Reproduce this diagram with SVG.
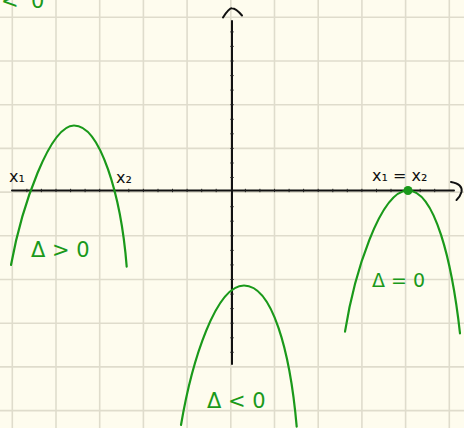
<svg xmlns="http://www.w3.org/2000/svg" width="464" height="428" viewBox="0 0 464 428">
<defs>
<style>
.grid line{stroke:#DFDCCC;stroke-width:1.6}
.axis{stroke:#111;stroke-width:2;fill:none;stroke-linecap:round;stroke-linejoin:round}
.tick{stroke:#222;stroke-width:1}
.curve{stroke:#1A991A;stroke-width:2.2;fill:none;stroke-linecap:round}
.lbl{fill:#1A991A;font-family:"DejaVu Sans",sans-serif}
.xl{fill:#111;font-family:"DejaVu Sans",sans-serif;font-size:16px}
</style>
</defs>
<rect width="464" height="428" fill="#FEFCEE"/>
<g class="grid" id="grid">
<line x1="12.3" y1="0" x2="12.3" y2="428"/>
<line x1="56" y1="0" x2="56" y2="428"/>
<line x1="99.7" y1="0" x2="99.7" y2="428"/>
<line x1="143.4" y1="0" x2="143.4" y2="428"/>
<line x1="187.1" y1="0" x2="187.1" y2="428"/>
<line x1="230.8" y1="0" x2="230.8" y2="428"/>
<line x1="274.5" y1="0" x2="274.5" y2="428"/>
<line x1="318.2" y1="0" x2="318.2" y2="428"/>
<line x1="361.9" y1="0" x2="361.9" y2="428"/>
<line x1="405.6" y1="0" x2="405.6" y2="428"/>
<line x1="449.3" y1="0" x2="449.3" y2="428"/>
<line x1="0" y1="17.3" x2="464" y2="17.3"/>
<line x1="0" y1="61" x2="464" y2="61"/>
<line x1="0" y1="104.7" x2="464" y2="104.7"/>
<line x1="0" y1="148.4" x2="464" y2="148.4"/>
<line x1="0" y1="192.1" x2="464" y2="192.1"/>
<line x1="0" y1="235.8" x2="464" y2="235.8"/>
<line x1="0" y1="279.5" x2="464" y2="279.5"/>
<line x1="0" y1="323.2" x2="464" y2="323.2"/>
<line x1="0" y1="366.9" x2="464" y2="366.9"/>
<line x1="0" y1="410.6" x2="464" y2="410.6"/>
</g>
<g id="axes">
<path class="axis" d="M12,190.5 H454"/>
<path class="axis" d="M451,182 Q463,184 461.5,192 Q460,197 456.5,200"/>
<path class="axis" d="M232,21 V364"/>
<path class="axis" d="M223,17.5 Q229,8 232,8.3 Q236,8.5 242,15.5"/>
<path class="tick" d="M26.9,188.8v3.4M41.4,188.8v3.4M56,188.8v3.4M70.6,188.8v3.4M85.1,188.8v3.4M99.7,188.8v3.4M114.3,188.8v3.4M128.8,188.8v3.4M143.4,188.8v3.4M158,188.8v3.4M172.5,188.8v3.4M187.1,188.8v3.4M201.7,188.8v3.4M216.2,188.8v3.4M245.4,188.8v3.4M259.9,188.8v3.4M274.5,188.8v3.4M289.1,188.8v3.4M303.6,188.8v3.4M318.2,188.8v3.4M332.8,188.8v3.4M347.3,188.8v3.4M361.9,188.8v3.4M376.5,188.8v3.4M391,188.8v3.4M420.2,188.8v3.4M434.7,188.8v3.4"/>
<path class="tick" d="M230.3,31.9h3.4M230.3,46.4h3.4M230.3,61h3.4M230.3,75.6h3.4M230.3,90.1h3.4M230.3,104.7h3.4M230.3,119.3h3.4M230.3,133.8h3.4M230.3,148.4h3.4M230.3,163h3.4M230.3,177.5h3.4M230.3,206.7h3.4M230.3,221.2h3.4M230.3,235.8h3.4M230.3,250.4h3.4M230.3,264.9h3.4M230.3,279.5h3.4M230.3,294.1h3.4M230.3,308.6h3.4M230.3,323.2h3.4M230.3,337.8h3.4M230.3,352.3h3.4"/>
</g>
<g id="parabola-pos">
<path class="curve" d="M11,265 C22,205 50,125.5 74,125.5 C100,125.5 121,195 126.7,266.7"/>
<text class="xl" x="9" y="182">x₁</text>
<text class="xl" x="116" y="183">x₂</text>
<text class="lbl" x="31" y="257" font-size="21">Δ &gt; 0</text>
</g>
<g id="parabola-neg">
<path class="curve" d="M181,425 C192,360 216,285.5 244,285.5 C272,285.5 290,350 296.7,426.7"/>
<text class="lbl" x="207" y="408" font-size="21">Δ &lt; 0</text>
</g>
<g id="parabola-zero">
<path class="curve" d="M345,331.7 C354,275 380,190.5 408,190.5 C435,190.5 452,262 460,333.3"/>
<circle cx="408" cy="190.5" r="4.5" fill="#1A991A"/>
<text class="xl" x="372" y="181">x₁ = x₂</text>
<text class="lbl" x="372" y="287" font-size="19">Δ = 0</text>
</g>
<g id="partial-label">
<text class="lbl" y="8" font-size="21"><tspan x="1">&lt;</tspan><tspan x="31">0</tspan></text>
</g>
</svg>
